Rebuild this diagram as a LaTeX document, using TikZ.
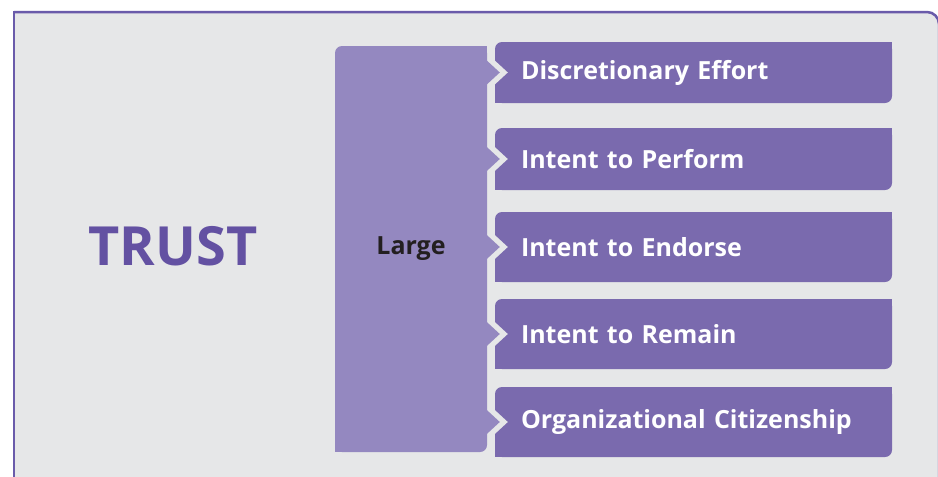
\documentclass[tikz,border=0pt]{standalone}
\usepackage{fontspec}
\setmainfont{Open Sans}
\definecolor{framecol}{HTML}{6A5BAA}
\definecolor{bgcol}{HTML}{E6E7E8}
\definecolor{largecol}{HTML}{9488C0}
\definecolor{boxcol}{HTML}{7A6AAE}
\definecolor{trustcol}{HTML}{6351A2}
\definecolor{darkcol}{HTML}{231F20}
\tikzset{
  largebox/.style={fill=largecol, rounded corners=7pt, minimum width=152pt, minimum height=406pt, inner sep=0pt, text=darkcol, font=\fontsize{25}{28}\selectfont\bfseries},
  outbox/.style={fill=boxcol, rounded corners=7pt, minimum width=397pt, text width=345pt, inner xsep=26pt, inner ysep=0pt, align=left, text=white, font=\fontsize{25}{28}\selectfont\bfseries},
  trustlabel/.style={text=trustcol, font=\fontsize{54}{60}\selectfont\bfseries}
}
\begin{document}
\begin{tikzpicture}[x=1pt,y=-1pt]
\useasboundingbox (0,0) rectangle (938,477);
\fill[bgcol, rounded corners=12pt] (14,12) -- (939,12) -- (939,520) -- (14,520);
\draw[framecol, line width=2.5pt, line cap=rect] (14,520) -- (14,12);
\draw[framecol, line width=2.5pt, rounded corners=12pt] (14,12) -- (939,12) -- (939,520);
\node[trustlabel] (trust) at (173,246) {TRUST};
\node[largebox] (large) at (411,249) {Large};
\fill[largecol] (large.north east) rectangle ++(-8,8);
\fill[largecol] (large.south west) rectangle ++(8,-8);
\foreach \i/\t/\b/\lbl in {1/42/103/Discretionary Effort, 2/128/190/Intent to Perform, 3/212/282/Intent to Endorse, 4/299/369/Intent to Remain, 5/387/457/Organizational Citizenship}
{
  \pgfmathsetmacro\h{\b-\t}
  \pgfmathsetmacro\c{(\t+\b)/2}
  \node[outbox, minimum height=\h pt] (out\i) at (693.5,\c) {\lbl};
  \fill[boxcol] (out\i.north east) rectangle ++(-8,8);
  \fill[boxcol] (out\i.south west) rectangle ++(8,-8);
  \fill[bgcol] (out\i.west) ++(0,-12) -- ++(13,12) -- ++(-13,12) -- cycle;
  \fill[largecol] (out\i.west) ++(-8,-12) -- ++(13,12) -- ++(-13,12) -- cycle;
}
\end{tikzpicture}
\end{document}
